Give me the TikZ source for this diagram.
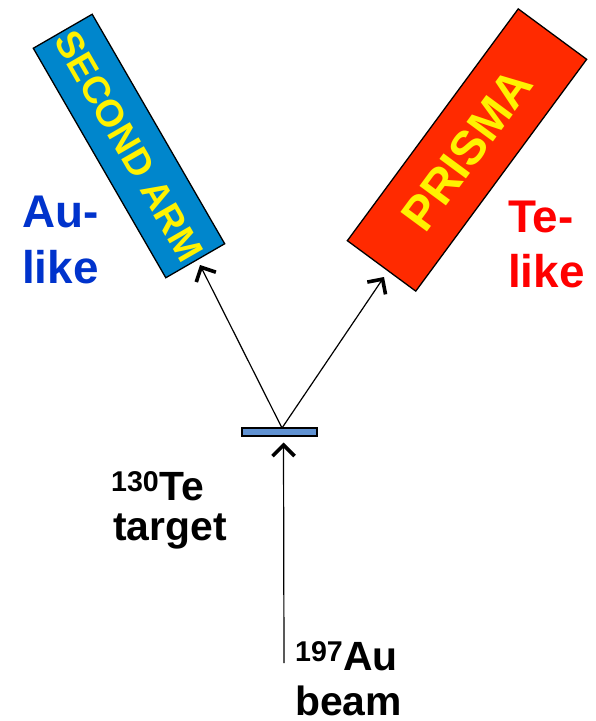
\documentclass[tikz,border=0pt]{standalone}
\usepackage{fontspec}
\setmainfont{Liberation Sans}
\usetikzlibrary{arrows.meta}
\definecolor{armblue}{RGB}{0,134,204}
\definecolor{prismared}{RGB}{255,42,0}
\definecolor{aublue}{RGB}{0,51,204}
\definecolor{tered}{RGB}{255,0,0}
\definecolor{tgtblue}{RGB}{96,146,210}
\begin{document}
\begin{tikzpicture}[x=1bp,y=-1bp,
  detector/.style={draw=black,line width=1.3bp,inner sep=0pt,text=yellow},
  sidelabel/.style={font=\bfseries\fontsize{46}{55}\selectfont,inner sep=0pt,anchor=base west},
  nuclabel/.style={font=\bfseries\fontsize{41}{45}\selectfont,inner sep=0pt,anchor=base west},
  ray/.style={line width=1.2bp,-{Straight Barb[length=11bp,width=22bp,line width=3.6bp]}}]
\useasboundingbox (0,0) rectangle (596,721);
% detectors
\node[detector,fill=armblue,minimum width=265bp,minimum height=68bp,rotate=-60,
  font=\bfseries\fontsize{38}{38}\selectfont] (arm) at (129,146) {SECOND ARM};
\node[detector,fill=prismared,minimum width=288bp,minimum height=85bp,rotate=53.6,
  font=\bfseries\fontsize{48}{48}\selectfont] (prisma) at (467,150) {PRISMA};
% target
\node[draw=black,line width=1.2bp,fill=tgtblue,minimum width=75bp,minimum height=8bp,inner sep=0pt] (target) at (279.5,432) {};
% coordinates
\coordinate (hit) at (282,428);
\coordinate (armtip) at (200,265);
\coordinate (prismatip) at (384,277);
\coordinate (beamstart) at (284,663);
\coordinate (beamtip) at (283.5,442.5);
% rays
\draw[ray] (hit) -- (armtip);
\draw[ray] (hit) -- (prismatip);
\draw[ray] (beamstart) -- (beamtip);
% labels
\node[sidelabel,text=aublue] (au1) at (22,227) {Au-};
\node[sidelabel,text=aublue] (au2) at (22,283) {like};
\node[sidelabel,text=tered] (te1) at (508,232) {Te-};
\node[sidelabel,text=tered] (te2) at (508,287) {like};
\node[nuclabel] (tgt1) at (111,500) {\textsuperscript{130}Te};
\node[nuclabel] (tgt2) at (113,540) {target};
\node[nuclabel] (beam1) at (295,670) {\textsuperscript{197}Au};
\node[nuclabel] (beam2) at (295,715) {beam};
\end{tikzpicture}
\end{document}
